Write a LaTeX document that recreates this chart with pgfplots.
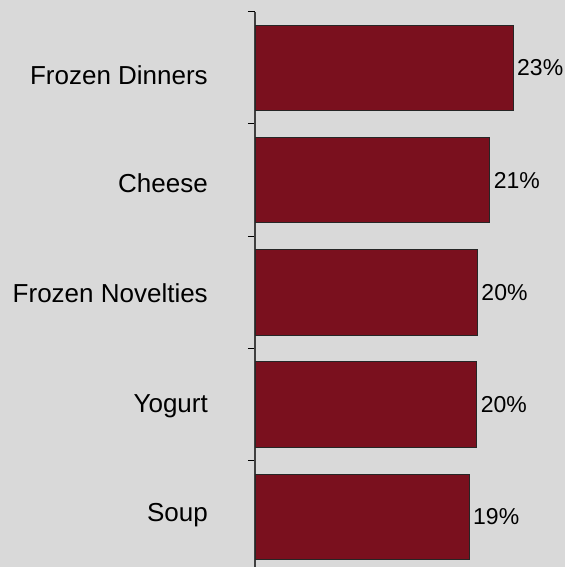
\documentclass[border=0pt]{standalone}
\usepackage{pgfplots}
\pgfplotsset{compat=1.18}
\usepackage{fontspec}
\setmainfont{Liberation Sans}
\definecolor{bgcol}{RGB}{217,217,217}
\definecolor{barcol}{RGB}{122,16,30}
\begin{document}
\begin{tikzpicture}
\useasboundingbox (0,0) rectangle (565pt,567pt);
\fill[bgcol] (0,0) rectangle (565pt,567pt);
\begin{axis}[
  at={(255pt,-6pt)}, anchor=south west,
  x=11.2pt, y=112.25pt,
  xmin=0, xmax=27, ymin=-0.5, ymax=4.5,
  hide x axis,
  axis y line*=left,
  axis line style={draw=black!75, line width=1.2pt, -},
  xbar, bar width=85.5pt,
  ytick={-0.040,0.931,1.907,2.888,3.856},
  yticklabels={Soup,Yogurt,Frozen Novelties,Cheese,Frozen Dinners},
  yticklabel style={anchor=base east, inner sep=0pt, xshift=-47pt, font=\fontsize{26}{31}\selectfont},
  major tick length=0pt,
  minor ytick={-0.5,0.5,1.5,2.5,3.5,4.5},
  minor tick length=7pt,
  tick align=outside,
  minor tick style={black, line width=1pt},
  point meta=explicit symbolic,
  nodes near coords,
  nodes near coords style={anchor=west, inner sep=0pt, xshift=3.7pt, text=black, font=\fontsize{23}{27}\selectfont},
  clip=false,
]
\addplot[fill=barcol, draw=black!85, line width=0.9pt] coordinates {
  (19.11,0) [19\%]
  (19.79,1) [20\%]
  (19.85,2) [20\%]
  (20.96,3) [21\%]
  (23.04,4) [23\%]
};
\end{axis}
\end{tikzpicture}
\end{document}
